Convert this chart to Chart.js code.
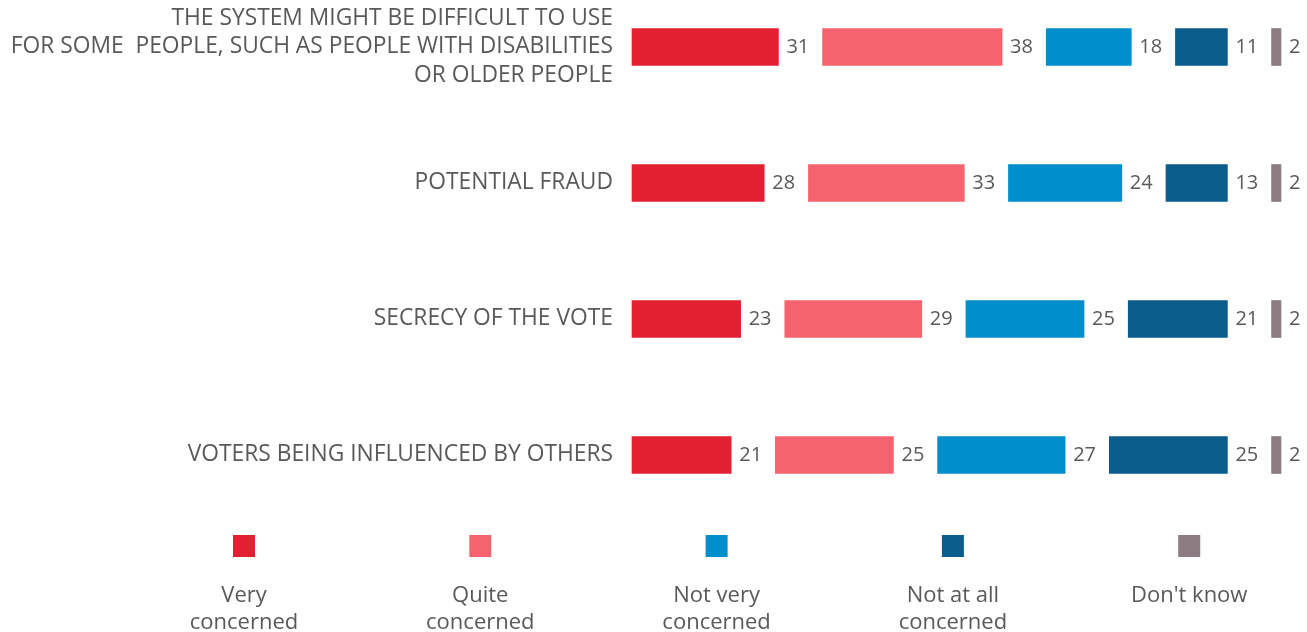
<!DOCTYPE html>
<html>
<head>
<meta charset="utf-8">
<script src="https://cdn.jsdelivr.net/npm/chart.js@4.4.1/dist/chart.umd.min.js"></script>
<style>
  html, body { margin: 0; padding: 0; background: #fff; }
  #wrap { width: 1307px; height: 632px; position: relative; }
</style>
</head>
<body>
<div id="wrap"><canvas id="chart"></canvas></div>
<script>
// Data
const categories = [
    ['THE SYSTEM MIGHT BE DIFFICULT TO USE', 'FOR SOME  PEOPLE, SUCH AS PEOPLE WITH DISABILITIES', 'OR OLDER PEOPLE'],
    'POTENTIAL FRAUD',
    'SECRECY OF THE VOTE',
    'VOTERS BEING INFLUENCED BY OTHERS'
];
const seriesNames = [['Very', 'concerned'], ['Quite', 'concerned'], ['Not very', 'concerned'], ['Not at all', 'concerned'], ["Don't know"]];
const veryConcerned = [31, 28, 23, 21];
const quiteConcerned = [38, 33, 29, 25];
const notVeryConcerned = [18, 24, 25, 27];
const notAtAllConcerned = [11, 13, 21, 25];
const dontKnow = [2, 2, 2, 2];

const series = [veryConcerned, quiteConcerned, notVeryConcerned, notAtAllConcerned, dontKnow];
const colors = ['#E31F32', '#F5636F', '#008ECC', '#0B5D8E', '#8C7B80'];
const GAP = 9.35; // blank space between the bar groups, in value units
const textColor = '#595959';
const fontFamily = '"Segoe UI", "Open Sans", "Noto Sans", sans-serif';

// floating bars: each segment starts after the previous ones plus a gap
const datasets = series.map((vals, s) => ({
    label: seriesNames[s].join(' '),
    values: vals,
    data: vals.map((v, i) => {
        let start = s * GAP;
        for (let k = 0; k < s; k++) start += series[k][i];
        return [start, start + v];
    }),
    backgroundColor: colors[s],
    barThickness: 37,
    grouped: false,
    clip: false
}));

const valueLabels = {
    id: 'valueLabels',
    afterDatasetsDraw(chart) {
        const ctx = chart.ctx;
        ctx.save();
        ctx.font = '20px ' + fontFamily;
        ctx.fillStyle = textColor;
        ctx.textAlign = 'left';
        ctx.textBaseline = 'middle';
        chart.data.datasets.forEach((ds, d) => {
            chart.getDatasetMeta(d).data.forEach((bar, i) => {
                ctx.fillText(ds.values[i], bar.x + 8, bar.y);
            });
        });
        ctx.restore();
    }
};

const bottomLegend = {
    id: 'bottomLegend',
    afterDraw(chart) {
        const ctx = chart.ctx;
        const x0 = 244, step = 236.3, yBox = 546, box = 22;
        ctx.save();
        ctx.font = '22px ' + fontFamily;
        ctx.textAlign = 'center';
        ctx.textBaseline = 'middle';
        seriesNames.forEach((name, i) => {
            const cx = x0 + i * step;
            ctx.fillStyle = colors[i];
            ctx.fillRect(cx - box / 2, yBox - box / 2, box, box);
            ctx.fillStyle = textColor;
            name.forEach((line, l) => ctx.fillText(line, cx, 596 + l * 27));
        });
        ctx.restore();
    }
};

new Chart(document.getElementById('chart'), {
    type: 'bar',
    data: { labels: categories, datasets },
    options: {
        indexAxis: 'y',
        responsive: true,
        maintainAspectRatio: false,
        animation: false,
        layout: { padding: { top: 47, bottom: 177, right: 26, left: 0 } },
        scales: {
            x: {
                display: false,
                min: 0,
                max: 100 + 4 * GAP
            },
            y: {
                offset: false,
                grid: { display: false },
                border: { display: false },
                ticks: {
                    color: textColor,
                    padding: 11,
                    font: { family: fontFamily, size: 22.8, lineHeight: 1.23 }
                },
                afterFit(scale) { scale.width = 632; }
            }
        },
        plugins: {
            legend: { display: false },
            tooltip: { enabled: false }
        }
    },
    plugins: [valueLabels, bottomLegend]
});
</script>
</body>
</html>
